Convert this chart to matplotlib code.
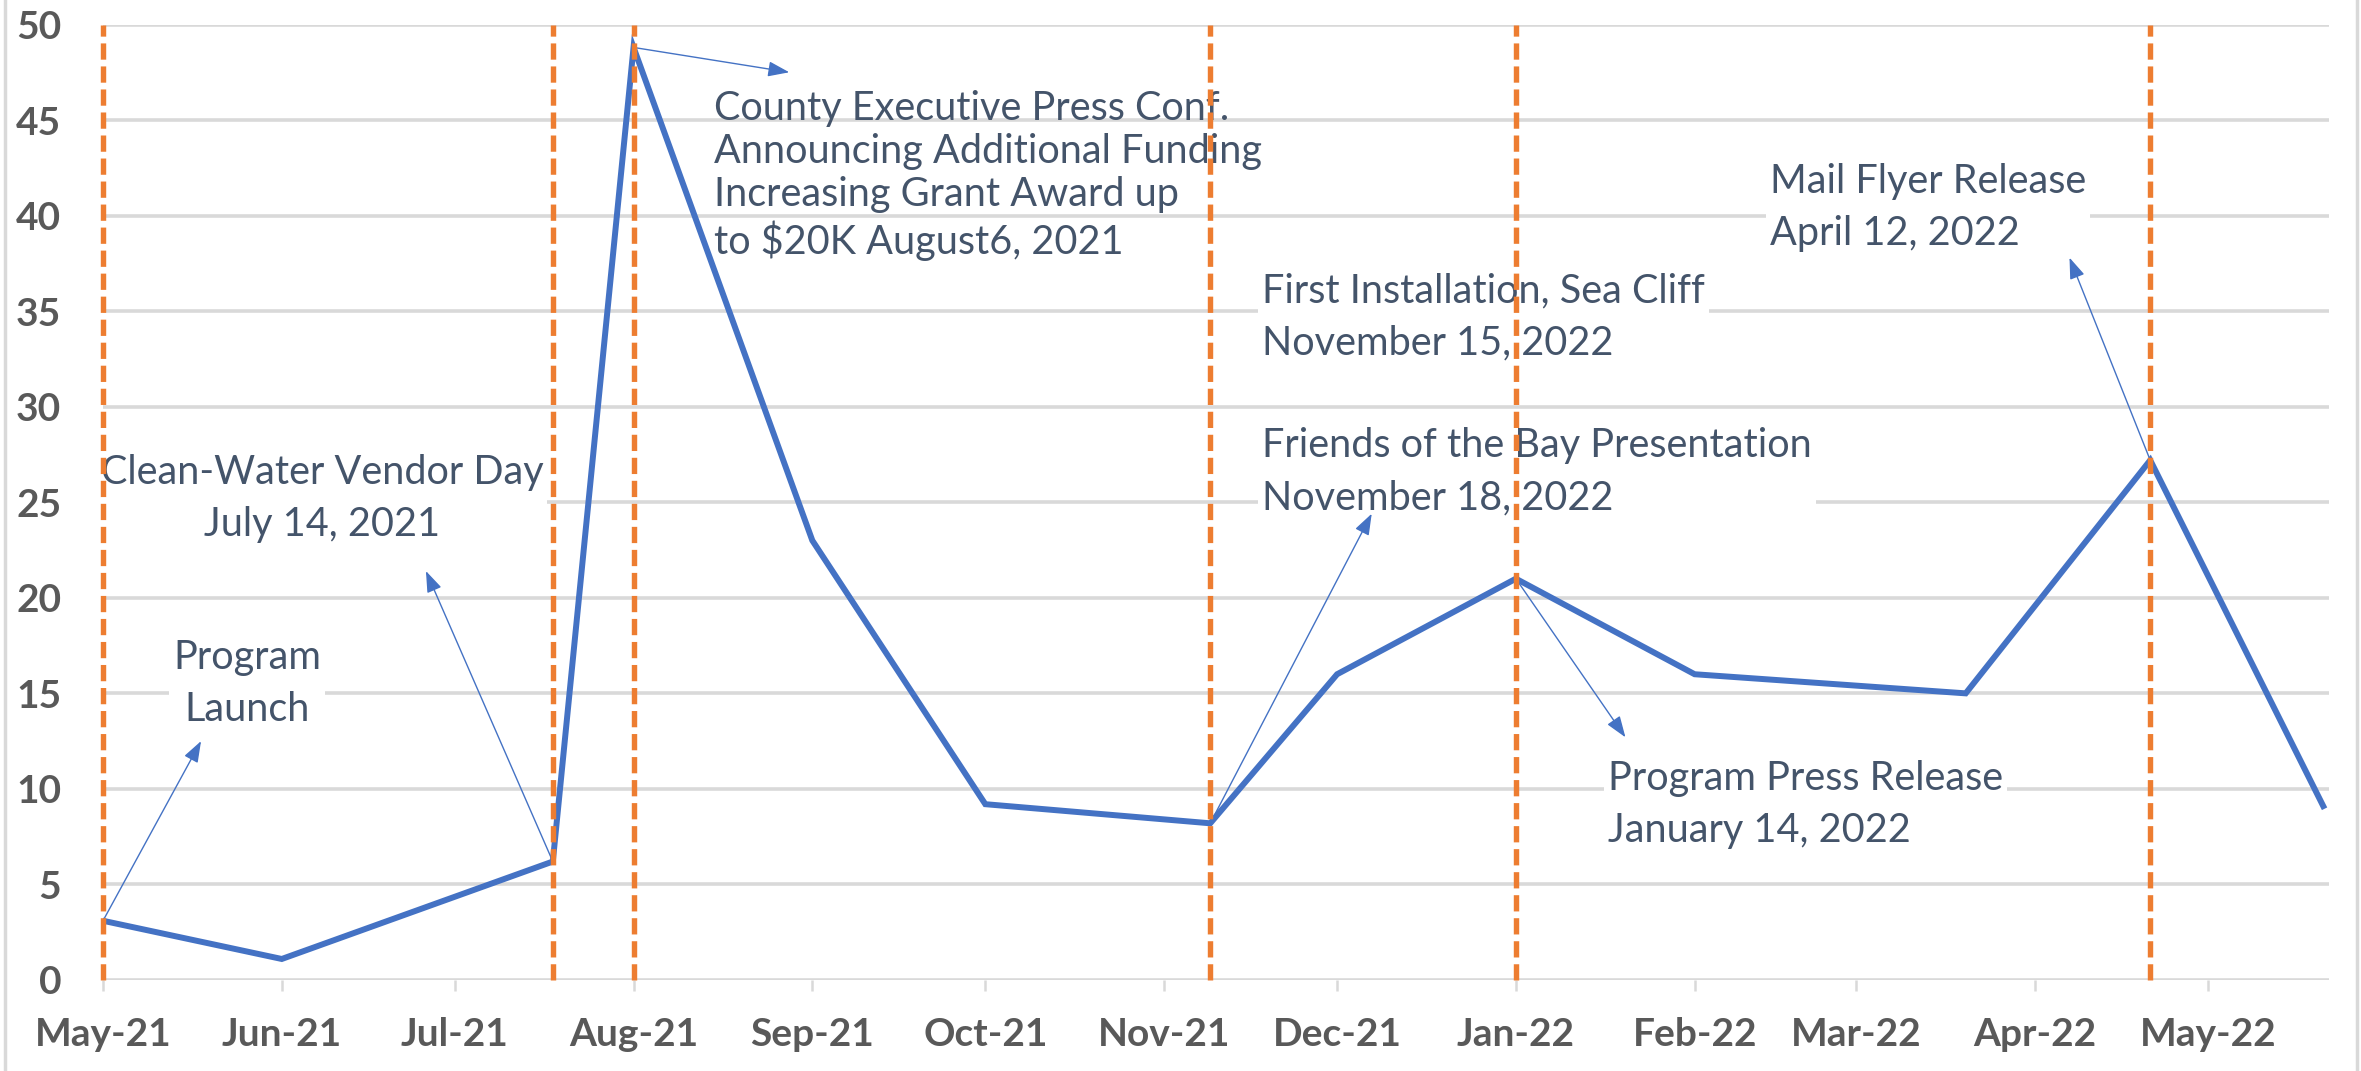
import matplotlib
matplotlib.use("Agg")
import matplotlib.pyplot as plt
from matplotlib.lines import Line2D
import pandas as pd

# ---------------- data ----------------
dates = ["2021-05-01", "2021-06-01", "2021-07-18", "2021-08-01", "2021-09-01",
         "2021-10-01", "2021-11-09", "2021-12-01", "2022-01-01", "2022-02-01",
         "2022-03-20", "2022-04-21", "2022-05-21"]
values = [3.1, 1.1, 6.2, 48.8, 23.0, 9.2, 8.2, 16.0, 21.0, 16.0, 15.0, 27.2, 9.1]

event_dates = ["2021-05-01", "2021-07-18", "2021-08-01", "2021-11-09",
               "2022-01-01", "2022-04-21"]

tick_dates = ["2021-05-01", "2021-06-01", "2021-07-01", "2021-08-01", "2021-09-01",
              "2021-10-01", "2021-11-01", "2021-12-01", "2022-01-01", "2022-02-01",
              "2022-03-01", "2022-04-01", "2022-05-01"]
tick_labels = ["May-21", "Jun-21", "Jul-21", "Aug-21", "Sep-21", "Oct-21", "Nov-21",
               "Dec-21", "Jan-22", "Feb-22", "Mar-22", "Apr-22", "May-22"]
y_ticks = [0, 5, 10, 15, 20, 25, 30, 35, 40, 45, 50]

annot_texts = [
    "Program\nLaunch",
    "Clean-Water Vendor Day\nJuly 14, 2021",
    "County Executive Press Conf.\nAnnouncing Additional Funding\nIncreasing Grant Award up\nto $20K August6, 2021",
    "First Installation, Sea Cliff\nNovember 15, 2022",
    "Friends of the Bay Presentation\nNovember 18, 2022",
    "Program Press Release\nJanuary 14, 2022",
    "Mail Flyer Release\nApril 12, 2022",
]
# layout of the annotations: text anchor (date, y), alignment, arrow tail (data index), arrow head (date, y)
annot_pos = [("2021-05-26", 15.5), ("2021-06-08", 25.2), ("2021-08-15", 42.1),
             ("2021-11-18", 34.7), ("2021-11-18", 26.6), ("2022-01-17", 9.2),
             ("2022-02-14", 40.4)]
annot_ha = ["center", "center", "left", "left", "left", "left", "left"]
annot_ls = [1.5, 1.5, 1.2, 1.5, 1.5, 1.5, 1.5]
annot_box = [True, True, False, True, True, True, True]
arrow_tail = [0, 2, 3, None, 6, 8, 11]
arrow_head = [("2021-05-18", 12.5), ("2021-06-26", 21.4), ("2021-08-28", 47.5), None,
              ("2021-12-07", 24.4), ("2022-01-20", 12.7), ("2022-04-07", 37.8)]

# ---------------- style ----------------
BLUE = "#4472C4"
ORANGE = "#ED7D31"
GRID = "#D9D9D9"
TXT = "#44546A"
TICK = "#595959"
FAM = ["Lato", "DejaVu Sans"]

plt.rcParams["font.family"] = FAM

W, H, DPI = 2361, 1071, 100
fig = plt.figure(figsize=(W / DPI, H / DPI), dpi=DPI)
ax = fig.add_axes([103 / W, 1 - 980 / H, (2329 - 103) / W, (980 - 24.5) / H])

x = pd.to_datetime(dates)
ax.plot(x, values, color=BLUE, lw=4.3, zorder=3, solid_joinstyle="miter")

ax.vlines(pd.to_datetime(event_dates), 0, 50, colors=ORANGE, lw=3.9,
          linestyles=(0, (3.0, 1.25)), zorder=5, clip_on=False)

for i, txt in enumerate(annot_texts):
    d, yv = annot_pos[i]
    kw = {}
    if annot_box[i]:
        kw["bbox"] = dict(boxstyle="square,pad=0.1", fc="white", ec="none")
    ax.text(pd.Timestamp(d), yv, txt, ha=annot_ha[i], va="center",
            multialignment=annot_ha[i], fontsize=28.5, color=TXT,
            linespacing=annot_ls[i], zorder=2, **kw)
    if arrow_tail[i] is not None:
        hd, hy = arrow_head[i]
        t = arrow_tail[i]
        ax.annotate("", xy=(pd.Timestamp(hd), hy), xytext=(x[t], values[t]),
                    arrowprops=dict(arrowstyle="-|>,head_length=1.0,head_width=0.36",
                                    color=BLUE, lw=1.0, shrinkA=0, shrinkB=0,
                                    mutation_scale=13), zorder=4)

ax.set_ylim(0, 50)
ax.set_xlim(pd.Timestamp("2021-05-01"), pd.Timestamp("2022-05-22"))
ax.set_yticks(y_ticks)
ax.set_yticklabels([str(v) for v in y_ticks])
ax.set_xticks(pd.to_datetime(tick_dates))
ax.set_xticklabels(tick_labels)

ax.yaxis.grid(True, color=GRID, lw=2.6, zorder=0)
ax.set_axisbelow(True)
for s in ax.spines.values():
    s.set_visible(False)

ax.tick_params(axis="y", length=0, pad=30, labelsize=28, labelcolor=TICK)
ax.tick_params(axis="x", length=8, width=1.8, color=GRID, pad=19,
               labelsize=28, labelcolor=TICK)
for lab in ax.get_xticklabels() + ax.get_yticklabels():
    lab.set_fontweight("bold")

# chart frame (left / right border lines)
fig.add_artist(Line2D([5 / W, 5 / W], [0, 1], transform=fig.transFigure, color=GRID, lw=2.5))
fig.add_artist(Line2D([2357 / W, 2357 / W], [0, 1], transform=fig.transFigure, color=GRID, lw=2.5))

fig.savefig("out.png", dpi=DPI, facecolor="white")
